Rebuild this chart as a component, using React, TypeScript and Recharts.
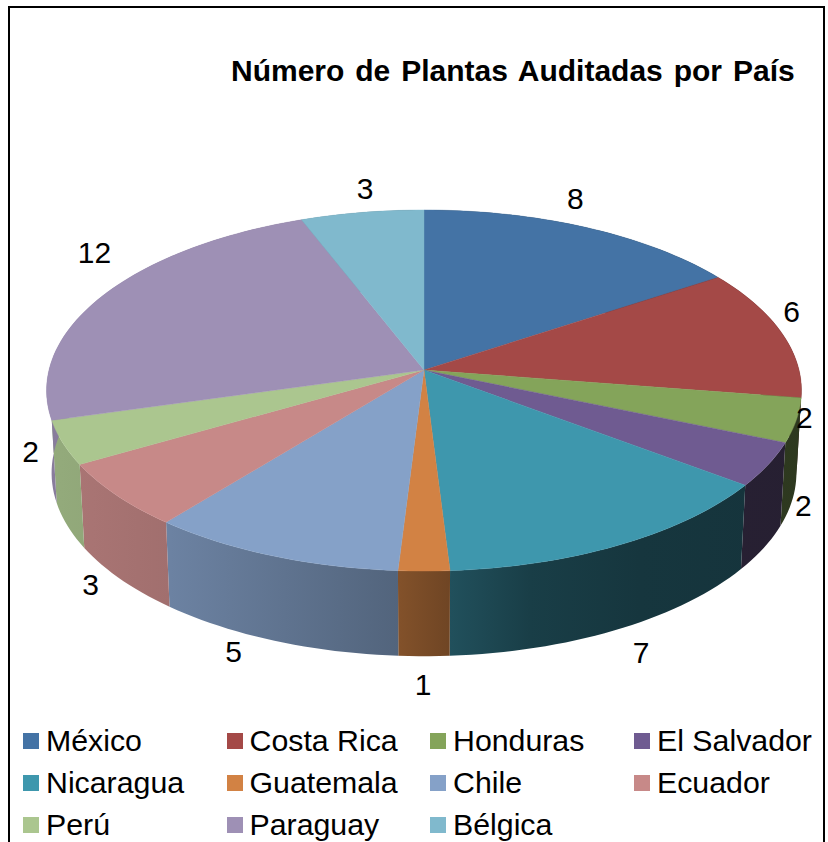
import React from "react";
import { PieChart, Pie, Legend } from "recharts";

const countries = ["México", "Costa Rica", "Honduras", "El Salvador", "Nicaragua", "Guatemala", "Chile", "Ecuador", "Perú", "Paraguay", "Bélgica"];
const plants = [8, 6, 2, 2, 7, 1, 5, 3, 2, 12, 3];
const colors = ["#4473A5", "#A44947", "#84A45A", "#6F5B91", "#3E97AD", "#D28244", "#85A1C8", "#C78988", "#ABC68F", "#9E90B5", "#80B9CD"];
const tableData = countries.map((name, i) => ({ name, value: plants[i], fill: colors[i] }));

const W = 828, H = 842;
const CX = 424, CY = 370;
const FONT = "'Liberation Sans', Arial, sans-serif";
const K = 0.1136;

// layout: label offsets from the rim point of each slice
const labelNudge = [[-10, -29], [10, -21], [8, -3], [35, 41], [20, 108], [-1, 113], [-39, 96], [-26, 89], [-32, 9], [-10, -42], [3, -24]];
// side wall brightness across the page
const shadeKnots = [[0, 0.88], [60, 0.86], [170, 0.81], [400, 0.62], [450, 0.53], [530, 0.41], [640, 0.36], [828, 0.34]];

const project = (deg: number, cx: number, cy: number, bx: number, ay: number) => {
  const t = ((90 - deg) * Math.PI) / 180; // clockwise from the top
  const X = Math.sin(t), Y = -Math.cos(t);
  const w = 1 - K * Y;
  return [cx + (bx * X) / w, cy + (ay * Y) / w];
};
const topRim = (deg: number, cx: number, cy: number) => project(deg, cx, cy, 375, 178.2);
const bottomRim = (deg: number, cx: number, cy: number) => project(deg, cx, cy + 82, 370, 181);

const arc = (a: number, b: number, f: (d: number) => number[]) => {
  const n = Math.max(2, Math.ceil(Math.abs(b - a) / 1.5));
  const pts: number[][] = [];
  for (let i = 0; i <= n; i++) pts.push(f(a + ((b - a) * i) / n));
  return pts;
};
const d = (pts: number[][]) => pts.map((p, i) => `${i ? "L" : "M"}${p[0].toFixed(2)} ${p[1].toFixed(2)}`).join(" ") + " Z";

const mix = (hex: string, f: number) => {
  const c = [1, 3, 5].map((i) => Math.round(parseInt(hex.slice(i, i + 2), 16) * f));
  return `rgb(${c[0]},${c[1]},${c[2]})`;
};

const TopFace = (p: any) => {
  const pts = arc(p.startAngle, p.endAngle, (a) => topRim(a, p.cx, p.cy));
  return <path d={d([[p.cx, p.cy], ...pts])} fill={p.fill} stroke={p.fill} strokeWidth={0.4} />;
};

const SideFace = (p: any) => {
  const top = arc(p.startAngle, p.endAngle, (a) => topRim(a, p.cx, p.cy));
  const bottom = arc(p.startAngle, p.endAngle, (a) => bottomRim(a, p.cx, p.cy)).reverse();
  const id = `side-${p.index}`;
  return (
    <g>
      <defs>
        <linearGradient id={id} gradientUnits="userSpaceOnUse" x1={0} y1={0} x2={W} y2={0}>
          {shadeKnots.map(([x, f]) => (
            <stop key={x} offset={x / W} stopColor={mix(p.payload?.fill ?? p.fill, f)} />
          ))}
        </linearGradient>
      </defs>
      <path d={d([...top, ...bottom])} fill={`url(#${id})`} />
    </g>
  );
};

const renderLabel = (p: any) => {
  const [x, y] = topRim(p.midAngle, p.cx, p.cy);
  const n = labelNudge[p.index];
  return (
    <text x={x + n[0]} y={y + n[1]} textAnchor="middle" dominantBaseline="central" fontFamily={FONT} fontSize={30} fill="#000">
      {p.value}
    </text>
  );
};

const LegendGrid = ({ payload }: any) => {
  const items = countries.map((name) => (payload ?? []).find((e: any) => e.value === name)).filter(Boolean);
  return (
    <div style={{ display: "grid", gridTemplateColumns: "203.5px 203.5px 204px 180px", gridAutoRows: "42px", fontFamily: FONT, fontSize: 30.3, letterSpacing: 0, color: "#000", paddingLeft: 23 }}>
      {items.map((e: any) => (
        <div key={e.value} style={{ display: "flex", alignItems: "center", whiteSpace: "nowrap", height: 42 }}>
          <span style={{ width: 16, height: 16, background: e.color, display: "inline-block", marginRight: 7, flex: "none" }} />
          {e.value}
        </div>
      ))}
    </div>
  );
};

export default function App() {
  return (
    <div style={{ position: "fixed", left: 0, top: 0, width: W, height: H, overflow: "hidden", background: "#fff" }}>
      <div style={{ position: "absolute", left: 8, top: 6, width: 813, height: 860, border: "2px solid #000" }} />
      <div style={{ position: "absolute", left: 231, top: 51, fontFamily: FONT, fontSize: 30, fontWeight: 700, wordSpacing: 2.6, whiteSpace: "nowrap", color: "#000", lineHeight: "40px" }}>
        Número de Plantas Auditadas por País
      </div>
      <div style={{ position: "absolute", left: 0, top: 0 }}>
        <PieChart width={W} height={H} margin={{ top: 0, right: 0, bottom: 0, left: 0 }} style={{ overflow: "visible" }}>
          <Pie data={tableData} dataKey="value" nameKey="name" cx={CX} cy={CY} outerRadius={375} startAngle={90} endAngle={-270} stroke="none" legendType="none" shape={SideFace} isAnimationActive={false} />
          <Pie data={tableData} dataKey="value" nameKey="name" cx={CX} cy={CY} outerRadius={375} startAngle={90} endAngle={-270} stroke="none" shape={TopFace} label={renderLabel} labelLine={false} isAnimationActive={false} />
          <Legend content={<LegendGrid />} itemSorter={null as any} wrapperStyle={{ position: "absolute", left: 0, top: 720, width: W, height: 126 }} />
        </PieChart>
      </div>
    </div>
  );
}
